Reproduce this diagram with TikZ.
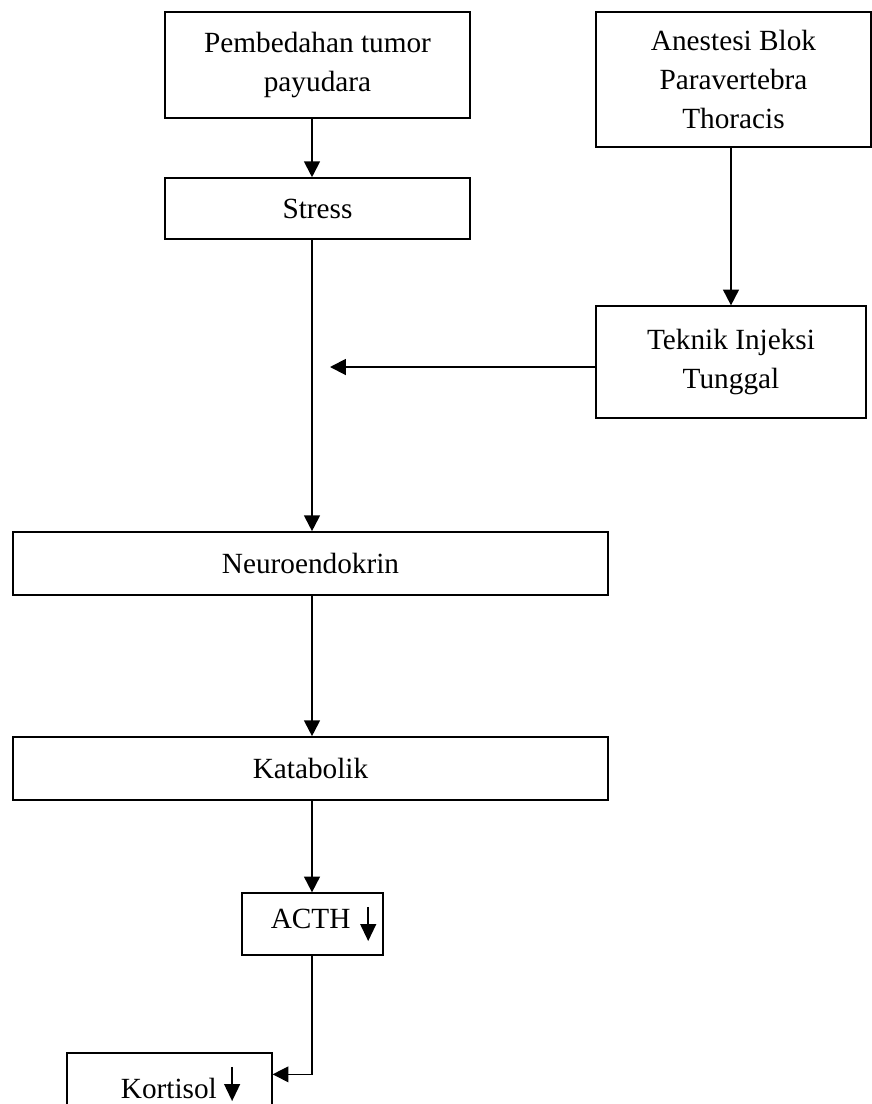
\documentclass[tikz,border=0pt]{standalone}
\usepackage{fontspec}
\setmainfont{Liberation Serif}
\usetikzlibrary{arrows.meta}
\newcommand{\panahturun}[1][0pt]{\tikz[baseline=#1]\draw[line width=0.7pt,-{Triangle[width=6.5pt,length=7pt]}] (0,9pt) -- (0,-5pt);}

\begin{document}
\begin{tikzpicture}[x=0.0144cm, y=-0.0144cm, >={Triangle[width=6.5pt,length=6.5pt]},
    kotak/.style={draw, line width=0.6pt, rectangle, inner sep=0pt, align=center, font=\fontsize{12}{16}\selectfont},
    panah/.style={->, line width=0.8pt}]
    \useasboundingbox (0,0) rectangle (872,1104);
    \clip (0,0) rectangle (872,1104);
    % Jalur utama
    \node[kotak, minimum width=4.39cm, minimum height=1.53cm] (pem) at (317.5,65) {Pembedahan tumor\\payudara};
    \node[kotak, minimum width=4.39cm, minimum height=0.88cm] (str) at (317.5,208.5) {Stress};
    \node[kotak, minimum width=8.57cm, minimum height=0.91cm] (neu) at (310.5,563.5) {Neuroendokrin};
    \node[kotak, minimum width=8.57cm, minimum height=0.91cm] (kat) at (310.5,768.5) {Katabolik};
    \node[kotak, minimum width=2.03cm, minimum height=0.89cm] (acth) at (312.5,924) {\hspace*{9pt}ACTH\hspace{4pt}\panahturun};
    \node[kotak, minimum width=2.95cm, minimum height=0.89cm] (kor) at (169.5,1084) {\hspace*{9pt}Kortisol\hspace{3pt}\panahturun[-4pt]};
    % Anestesi
    \node[kotak, minimum width=3.96cm, minimum height=1.94cm] (ane) at (733.5,79.5) {Anestesi Blok\\Paravertebra\\Thoracis};
    \node[kotak, minimum width=3.89cm, minimum height=1.61cm] (tek) at (731,362) {Teknik Injeksi\\Tunggal};

    \coordinate (jalur) at (312,0);
    \coordinate (ujung) at (330,367);

    \draw[panah] (pem.south -| jalur) -- (str.north -| jalur);
    \draw[panah] (str.south -| jalur) -- (neu.north -| jalur);
    \draw[panah] (neu.south -| jalur) -- (kat.north -| jalur);
    \draw[panah] (kat.south -| jalur) -- (acth.north -| jalur);
    \draw[panah] (tek.north |- ane.south) -- (tek.north);
    \draw[panah] (tek.west |- ujung) -- (ujung);
    \draw[->, line width=0.5pt] (acth.south -| jalur) |- ([yshift=-9pt]kor.north east);
\end{tikzpicture}
\end{document}
